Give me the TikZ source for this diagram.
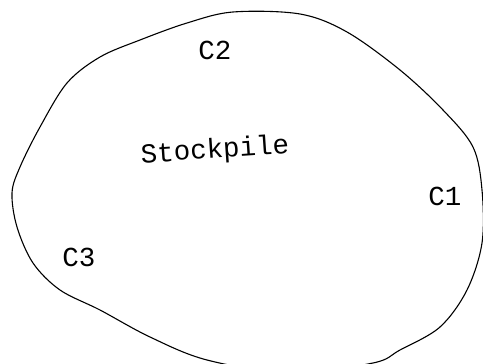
\documentclass[tikz,border=0pt]{standalone}
\usepackage{fontspec}
\setmonofont{Liberation Mono}
\begin{document}
\begin{tikzpicture}[x=1pt,y=-1pt,
  lbl/.style={font=\ttfamily\fontsize{27.5}{28}\selectfont, inner sep=0pt},
  outline/.style={line width=1.1pt, black}]
\useasboundingbox (0,0) rectangle (483,364);
\clip (0,0) rectangle (483,364);
\draw[outline] plot[smooth cycle, tension=0.55] coordinates {
 (233,12) (300,14) (347,32) (400,70) (443,110) (473,147) (482,190)
 (482,243) (467,290) (440,327) (400,350) (373,363) (290,373)
 (207,360) (150,337) (100,310) (60,290) (33,263) (17,227) (12,193)
 (20,167) (40,127) (67,83) (100,57) (140,40) (187,23)};
\node[lbl] (c2) at (215,50) {C2};
\node[lbl, rotate=4] (sp) at (215,151) {Stockpile};
\node[lbl] (c1) at (445,196) {C1};
\node[lbl] (c3) at (79,257) {C3};
\end{tikzpicture}
\end{document}
